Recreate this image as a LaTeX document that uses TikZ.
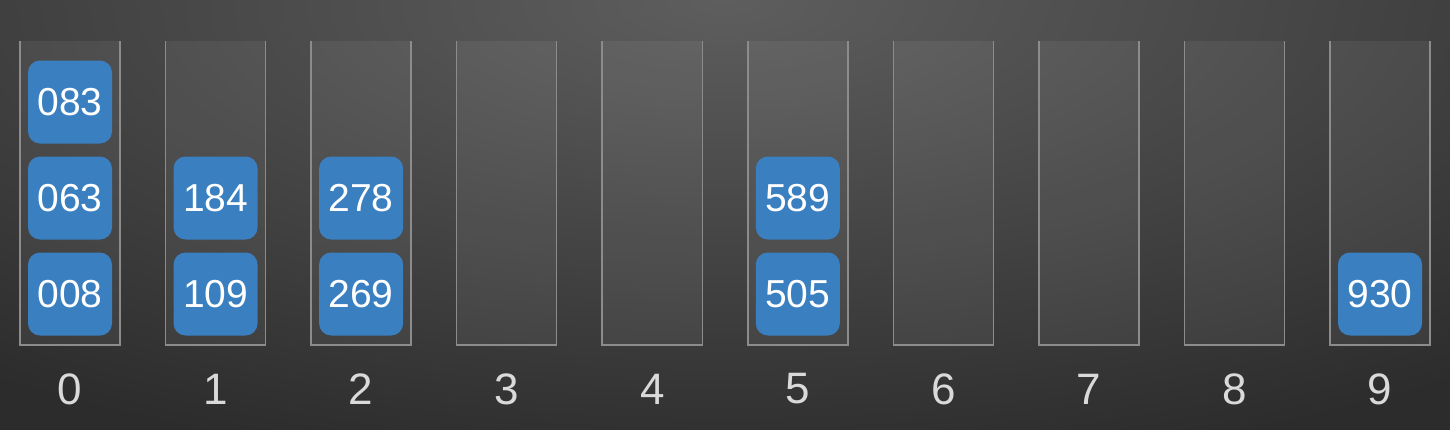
\documentclass[tikz,border=0pt]{standalone}
\usepackage{fontspec}
\setmainfont{Liberation Sans}
\definecolor{boxblue}{HTML}{3A7FC0}
\definecolor{bgtop}{HTML}{5E5E5E}
\definecolor{bgbot}{HTML}{2C2C2C}
\definecolor{binline}{HTML}{8C8C8C}
\definecolor{labelgray}{HTML}{DADADA}
\tikzset{
  key/.style={fill=boxblue, rounded corners=6pt, minimum width=42pt, minimum height=41.5pt,
    inner sep=0pt, text=white, font=\fontsize{19.5}{20}\selectfont},
  digit/.style={text=labelgray, font=\fontsize{22}{24}\selectfont},
}
\begin{document}
\begin{tikzpicture}[x=0.5pt,y=-0.5pt]
  \useasboundingbox (0,0) rectangle (1450,429);
  \begin{scope}
    \clip (0,0) rectangle (1450,429);
    \shade[inner color=bgtop, outer color=bgbot] (-475,-480) rectangle (1925,480);
  \end{scope}

  \foreach \i in {0,...,9} {
    \fill[white, opacity=0.06] ({20+145.56*\i},41) rectangle +(100,304);
    \draw[binline, line width=0.75pt] ({20+145.56*\i},41) -- ++(0,304) -- ++(100,0) -- ++(0,-304);
    \node[digit] (lbl\i) at ({70+145.56*\i},389) {\i};
  }

  \foreach \b/\row/\val in {0/0/008,0/1/063,0/2/083,1/0/109,1/1/184,2/0/269,2/1/278,5/0/505,5/1/589,9/0/930}
    \node[key] (k\val) at ({70+145.56*\b},{294-96*\row}) {\val};
\end{tikzpicture}
\end{document}
